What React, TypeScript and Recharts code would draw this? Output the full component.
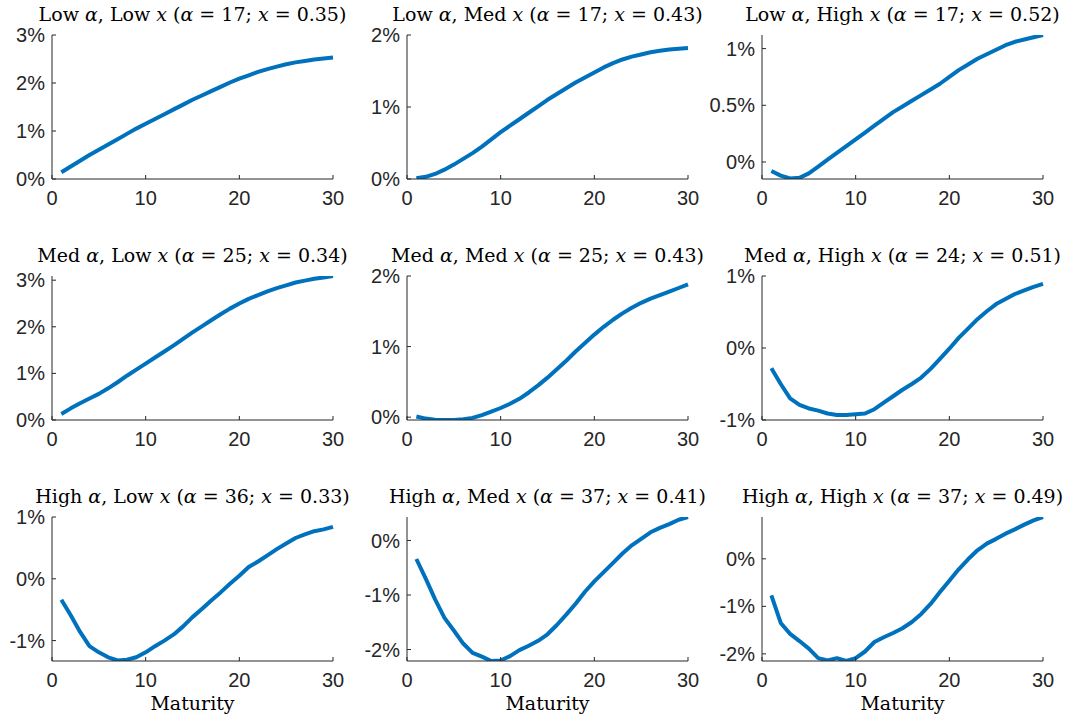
import { LineChart, Line, XAxis, YAxis } from 'recharts';

const maturity = [1, 2, 3, 4, 5, 6, 7, 8, 9, 10, 11, 12, 13, 14, 15, 16, 17, 18, 19, 20, 21, 22, 23, 24, 25, 26, 27, 28, 29, 30];
const xTicks = [0, 10, 20, 30];

const lowAlphaLowX = [0.14, 0.26, 0.38, 0.5, 0.61, 0.72, 0.83, 0.94, 1.05, 1.15, 1.25, 1.35, 1.45, 1.55, 1.65, 1.74, 1.83, 1.92, 2.01, 2.09, 2.16, 2.23, 2.29, 2.34, 2.39, 2.43, 2.46, 2.49, 2.51, 2.53];
const lowAlphaMedX = [0.01, 0.03, 0.07, 0.13, 0.2, 0.28, 0.36, 0.45, 0.55, 0.65, 0.74, 0.83, 0.92, 1.01, 1.1, 1.18, 1.26, 1.34, 1.41, 1.48, 1.55, 1.61, 1.66, 1.7, 1.73, 1.76, 1.78, 1.8, 1.81, 1.82];
const lowAlphaHighX = [-0.08, -0.12, -0.145, -0.14, -0.1, -0.04, 0.02, 0.08, 0.14, 0.2, 0.26, 0.32, 0.38, 0.44, 0.49, 0.54, 0.59, 0.64, 0.69, 0.75, 0.81, 0.86, 0.91, 0.95, 0.99, 1.03, 1.06, 1.08, 1.1, 1.12];
const medAlphaLowX = [0.13, 0.25, 0.36, 0.46, 0.56, 0.68, 0.81, 0.95, 1.08, 1.21, 1.34, 1.47, 1.6, 1.74, 1.88, 2.01, 2.14, 2.27, 2.39, 2.5, 2.6, 2.68, 2.76, 2.83, 2.89, 2.95, 2.99, 3.03, 3.06, 3.09];
const medAlphaMedX = [0.01, -0.02, -0.035, -0.04, -0.04, -0.03, -0.01, 0.03, 0.08, 0.13, 0.19, 0.26, 0.35, 0.45, 0.56, 0.68, 0.8, 0.93, 1.05, 1.17, 1.28, 1.38, 1.47, 1.55, 1.62, 1.68, 1.73, 1.78, 1.83, 1.88];
const medAlphaHighX = [-0.28, -0.5, -0.7, -0.79, -0.84, -0.87, -0.91, -0.93, -0.93, -0.92, -0.91, -0.85, -0.76, -0.67, -0.58, -0.5, -0.41, -0.29, -0.15, -0.01, 0.14, 0.27, 0.4, 0.51, 0.61, 0.68, 0.75, 0.8, 0.85, 0.89];
const highAlphaLowX = [-0.34, -0.59, -0.86, -1.09, -1.19, -1.27, -1.32, -1.31, -1.27, -1.19, -1.09, -1.0, -0.9, -0.77, -0.62, -0.49, -0.35, -0.22, -0.08, 0.05, 0.19, 0.28, 0.38, 0.48, 0.57, 0.66, 0.72, 0.77, 0.8, 0.84];
const highAlphaMedX = [-0.34, -0.7, -1.08, -1.42, -1.65, -1.89, -2.06, -2.13, -2.21, -2.2, -2.12, -2.01, -1.93, -1.84, -1.72, -1.55, -1.36, -1.16, -0.94, -0.75, -0.58, -0.41, -0.24, -0.09, 0.03, 0.15, 0.23, 0.3, 0.38, 0.43];
const highAlphaHighX = [-0.77, -1.35, -1.58, -1.73, -1.89, -2.09, -2.14, -2.09, -2.15, -2.09, -1.95, -1.75, -1.65, -1.56, -1.46, -1.33, -1.16, -0.95, -0.7, -0.46, -0.22, -0.01, 0.18, 0.32, 0.42, 0.53, 0.62, 0.72, 0.81, 0.88];

const panels = [
  { a: 'Low', x: 'Low', alpha: '17', xv: '0.35', values: lowAlphaLowX, domain: [0, 3], ticks: [0, 1, 2, 3] },
  { a: 'Low', x: 'Med', alpha: '17', xv: '0.43', values: lowAlphaMedX, domain: [0, 2], ticks: [0, 1, 2] },
  { a: 'Low', x: 'High', alpha: '17', xv: '0.52', values: lowAlphaHighX, domain: [-0.15, 1.12], ticks: [0, 0.5, 1] },
  { a: 'Med', x: 'Low', alpha: '25', xv: '0.34', values: medAlphaLowX, domain: [0, 3.09], ticks: [0, 1, 2, 3] },
  { a: 'Med', x: 'Med', alpha: '25', xv: '0.43', values: medAlphaMedX, domain: [-0.04, 2], ticks: [0, 1, 2] },
  { a: 'Med', x: 'High', alpha: '24', xv: '0.51', values: medAlphaHighX, domain: [-1, 1], ticks: [-1, 0, 1] },
  { a: 'High', x: 'Low', alpha: '36', xv: '0.33', values: highAlphaLowX, domain: [-1.33, 1], ticks: [-1, 0, 1] },
  { a: 'High', x: 'Med', alpha: '37', xv: '0.41', values: highAlphaMedX, domain: [-2.21, 0.43], ticks: [-2, -1, 0] },
  { a: 'High', x: 'High', alpha: '37', xv: '0.49', values: highAlphaHighX, domain: [-2.15, 0.88], ticks: [-2, -1, 0] },
];

const AXIS = '#262626';
const LINE = '#0072BD';
const colLeft = [52, 407, 762];
const rowTop = [35, 276, 517];
const PW = 281;
const PH = 144;
const YW = 60;
const TOP = 14;
const XM = 12;
const YM = 7;

const serif = '"DejaVu Serif", serif';
const sans = '"Liberation Sans", Arial, sans-serif';

const XTick = (props: any) => {
  const { x, y, payload } = props;
  return (
    <g>
      <line x1={x} x2={x} y1={y - XM} y2={y - XM - 4} stroke={AXIS} strokeWidth={1} />
      <text x={x} y={y} dy="0.71em" textAnchor="middle" fill={AXIS} fontSize={20} fontFamily={sans}>
        {payload.value}
      </text>
    </g>
  );
};

const YTick = (props: any) => {
  const { x, y, payload } = props;
  return (
    <g>
      <line x1={x + YM} x2={x + YM + 4} y1={y} y2={y} stroke={AXIS} strokeWidth={1} />
      <text x={x} y={y} dy="0.355em" textAnchor="end" fill={AXIS} fontSize={20} fontFamily={sans}>
        {payload.value}%
      </text>
    </g>
  );
};

function Panel({ p, i }: { p: any; i: number }) {
  const left = colLeft[i % 3];
  const top = rowTop[Math.floor(i / 3)];
  const data = maturity.map((m, k) => ({ m, v: p.values[k] }));
  return (
    <>
      <div style={{ position: 'absolute', left: left - YW, top: top - TOP }}>
        <LineChart width={YW + PW + 15} height={PH + TOP + 40} data={data} margin={{ top: TOP, right: 15, bottom: 0, left: 0 }}>
          <XAxis
            type="number"
            dataKey="m"
            domain={[0, 30]}
            ticks={xTicks}
            interval={0}
            height={40}
            stroke={AXIS}
            tickSize={0}
            tickMargin={XM}
            tick={XTick}
          />
          <YAxis
            type="number"
            domain={p.domain}
            ticks={p.ticks}
            interval={0}
            width={YW}
            allowDataOverflow
            stroke={AXIS}
            tickSize={0}
            tickMargin={YM}
            tick={YTick}
          />
          <Line
            type="linear"
            dataKey="v"
            stroke={LINE}
            strokeWidth={4}
            strokeLinejoin="round"
            dot={false}
            isAnimationActive={false}
          />
        </LineChart>
      </div>
      <div
        style={{
          position: 'absolute',
          left: left - 60,
          top: top - 32,
          width: PW + 120,
          textAlign: 'center',
          whiteSpace: 'nowrap',
          fontFamily: serif,
          fontSize: 19,
          lineHeight: '22px',
          color: '#000',
        }}
      >
        {p.a} <i>α</i>, {p.x} <i>x</i> (<i>α</i> = {p.alpha}; <i>x</i> = {p.xv})
      </div>
      {i >= 6 && (
        <div
          style={{
            position: 'absolute',
            left: left,
            top: 692,
            width: PW,
            textAlign: 'center',
            fontFamily: serif,
            fontSize: 19,
            lineHeight: '22px',
            color: '#000',
          }}
        >
          Maturity
        </div>
      )}
    </>
  );
}

export default function App() {
  return (
    <div style={{ position: 'absolute', left: 0, top: 0, width: 1075, height: 717, background: '#fff', overflow: 'hidden' }}>
      {panels.map((p, i) => (
        <Panel key={i} p={p} i={i} />
      ))}
    </div>
  );
}
